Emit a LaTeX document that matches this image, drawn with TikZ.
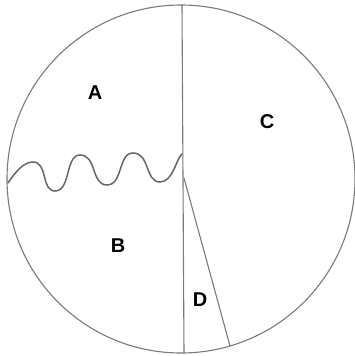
\documentclass[tikz,border=0pt]{standalone}
\usepackage{fontspec}
\setmainfont{Liberation Sans}
\usetikzlibrary{positioning}

\begin{document}
\begin{tikzpicture}[x=1pt, y=-1pt, line cap=round, font=\fontsize{20}{20}\selectfont\bfseries]
    \tikzset{pencil/.style={draw=black!52, line width=1.1pt},
             wave/.style={draw=black!60, line width=1.5pt}}
    \useasboundingbox (0,0) rectangle (355,356);

    \coordinate (O) at (181,179);
    \coordinate (top) at (182,5);
    \coordinate (bot) at (184,353);
    \coordinate (mid) at (184,178);
    \coordinate (rim) at (230,346);

    \draw[pencil] (O) circle[radius=174];
    \draw[pencil] (top) -- (bot);
    \draw[pencil] (mid) -- (rim);

    % wavy border between A and B
    \draw[wave] (8,183) .. controls +(8,-12) and +(-9,0) .. (33,162)
      .. controls +(15,0) and +(-14,0) .. (55,191)
      .. controls +(16,0) and +(-15,0) .. (80,155)
      .. controls +(17,0) and +(-16,0) .. (107,185)
      .. controls +(16,0) and +(-15,0) .. (133,153)
      .. controls +(17,0) and +(-15,0) .. (160,182)
      .. controls +(13,0) and +(-6,5) .. (182,154);

    \node (A) at (95,93) {A};
    \node (C) at (267,122) {C};
    \node (B) at (118,246) {B};
    \node (D) at (200,300) {D};
\end{tikzpicture}
\end{document}
